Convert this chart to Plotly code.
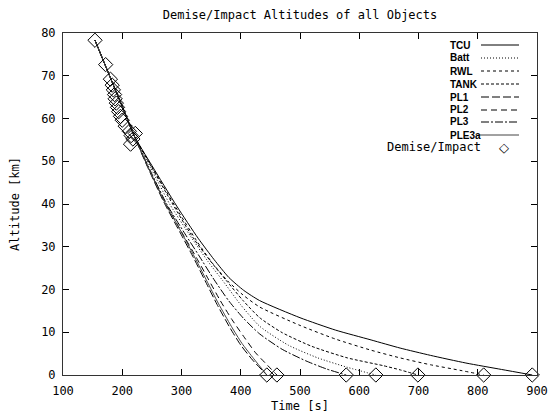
import plotly.graph_objects as go

# ---------------- data ----------------
names = ["TCU", "Batt", "RWL", "TANK", "PL1", "PL2", "PL3", "PLE3a"]

tcu_t   = [154, 175, 200, 220, 250, 292, 328, 355, 380, 405, 432, 500, 560, 620, 669, 720, 780, 840, 892]
tcu_alt = [78.3, 71.2, 62.8, 56.0, 49.0, 39.5, 32.0, 27.0, 22.8, 19.8, 17.4, 13.4, 10.5, 8.2, 6.3, 4.6, 2.8, 1.3, 0.0]

rwl_t   = [154, 175, 200, 220, 250, 290, 325, 352, 378, 404, 432, 500, 560, 620, 669, 720, 770, 810]
rwl_alt = [78.3, 71.2, 62.8, 56.0, 48.7, 39.3, 31.5, 26.2, 22.0, 18.7, 15.9, 11.6, 8.4, 5.8, 4.0, 2.4, 1.1, 0.0]

tank_t   = [154, 175, 200, 220, 250, 285, 320, 348, 375, 404, 432, 470, 520, 580, 640, 669, 699]
tank_alt = [78.3, 71.2, 62.8, 56.0, 48.5, 40.0, 32.0, 26.8, 22.2, 17.4, 13.4, 9.9, 6.7, 4.0, 2.2, 1.2, 0.0]

batt_t   = [154, 175, 200, 220, 248, 280, 315, 345, 370, 400, 432, 480, 530, 580, 628]
batt_alt = [78.3, 71.2, 62.8, 56.0, 48.5, 40.0, 32.5, 26.5, 22.0, 16.4, 11.4, 7.0, 4.0, 1.8, 0.0]

pl3_t   = [154, 175, 200, 220, 245, 275, 306, 330, 355, 380, 405, 432, 470, 510, 545, 578]
pl3_alt = [78.3, 71.2, 62.8, 56.0, 48.5, 40.0, 33.0, 27.8, 22.3, 17.3, 13.2, 9.6, 6.0, 3.3, 1.4, 0.0]

pl1_t   = [154, 175, 200, 220, 240, 270, 297, 320, 340, 360, 382, 400, 420, 444]
pl1_alt = [78.3, 71.2, 62.8, 56.0, 49.5, 40.5, 33.5, 27.5, 22.0, 16.5, 11.0, 7.0, 3.5, 0.0]

pl2_t   = [154, 175, 200, 220, 240, 270, 300, 325, 345, 365, 385, 405, 425, 445, 461]
pl2_alt = [78.3, 71.2, 62.8, 56.0, 49.7, 41.0, 33.5, 27.5, 22.5, 17.5, 13.0, 9.0, 5.2, 2.3, 0.0]

ple3a_t   = [154, 175, 200, 220, 241, 271, 299, 322, 342, 362, 384, 402, 422, 444]
ple3a_alt = [78.3, 71.2, 62.8, 56.0, 49.4, 40.6, 33.6, 27.6, 22.2, 16.8, 11.4, 7.4, 3.8, 0.0]

demise_t   = [154, 172, 180, 183, 185, 187, 188, 190, 192, 194, 197, 200, 205, 212, 215, 218, 214, 222,
              444, 461, 578, 628, 699, 810, 892]
demise_alt = [78.3, 72.6, 69.2, 67.8, 66.7, 65.6, 64.6, 63.6, 62.6, 61.6, 60.5, 59.6, 58.2, 57.0, 56.0, 55.2, 54.0, 56.5,
              0, 0, 0, 0, 0, 0, 0]

x_ticks = [100, 200, 300, 400, 500, 600, 700, 800, 900]
y_ticks = [0, 10, 20, 30, 40, 50, 60, 70, 80]

series = {
    "TCU": (tcu_t, tcu_alt),
    "Batt": (batt_t, batt_alt),
    "RWL": (rwl_t, rwl_alt),
    "TANK": (tank_t, tank_alt),
    "PL1": (pl1_t, pl1_alt),
    "PL2": (pl2_t, pl2_alt),
    "PL3": (pl3_t, pl3_alt),
    "PLE3a": (ple3a_t, ple3a_alt),
}

# ---------------- styles ----------------
dashes = {
    "TCU": "solid",
    "Batt": "1px,2px",
    "RWL": "3px,3px",
    "TANK": "3px,2px",
    "PL1": "8px,3px",
    "PL2": "6px,4px",
    "PL3": "8px,2px,2px,2px",
    "PLE3a": "solid",
}
colors = {n: "#000000" for n in names}
colors["PLE3a"] = "#444444"

MONO = "DejaVu Sans Mono"

W, H = 552, 413
L, R, T, B = 63, 15, 33, 38
PW, PH = W - L - R, H - T - B

fig = go.Figure()
for n in names:
    tx, ay = series[n]
    fig.add_trace(go.Scatter(
        x=tx, y=ay, mode="lines", name=n, showlegend=False,
        line=dict(color=colors[n], width=1, dash=dashes[n], shape="spline", smoothing=0.6),
    ))

fig.add_trace(go.Scatter(
    x=demise_t, y=demise_alt, mode="markers", name="Demise/Impact", showlegend=False,
    marker=dict(symbol="diamond-open", size=11, color="#000000", line=dict(width=1, color="#000000")),
    cliponaxis=False,
))

# ---------------- manual gnuplot-style key ----------------
def px2x(px):
    return (px - L) / PW

def py2y(py):
    return (H - B - py) / PH

rows_py = [45, 58, 71, 84, 97, 110, 122, 135]
shapes = []
annotations = []
for n, py in zip(names, rows_py):
    annotations.append(dict(
        x=px2x(449), y=py2y(py), xref="paper", yref="paper", text=n, showarrow=False,
        xanchor="left", yanchor="middle", borderpad=0,
        font=dict(family="Liberation Sans", size=10, color="#000000", weight="bold"),
    ))
    x0 = 479 if n == "PLE3a" else 481
    shapes.append(dict(
        type="line", xref="paper", yref="paper",
        x0=px2x(x0), x1=px2x(519), y0=py2y(py), y1=py2y(py),
        line=dict(color=colors[n], width=1, dash=dashes[n]),
    ))
annotations.append(dict(
    x=px2x(482), y=py2y(147), xref="paper", yref="paper", text="Demise/Impact", showarrow=False,
    xanchor="right", yanchor="middle", borderpad=0, font=dict(family=MONO, size=12, color="#000000"),
))
annotations.append(dict(
    x=px2x(504), y=py2y(147), xref="paper", yref="paper", text="◇", showarrow=False,
    xanchor="center", yanchor="middle", borderpad=0, font=dict(family="DejaVu Sans", size=13, color="#000000"),
))

fig.update_layout(
    width=W, height=H,
    margin=dict(l=L, r=R, t=T, b=B, pad=0, autoexpand=False),
    paper_bgcolor="#ffffff", plot_bgcolor="#ffffff",
    title=dict(text="Demise/Impact Altitudes of all Objects", x=(L + PW / 2) / W, xanchor="center",
               y=1 - 15 / H, yanchor="middle", font=dict(family=MONO, size=12, color="#000000")),
    font=dict(family=MONO, size=12, color="#000000"),
    shapes=shapes, annotations=annotations,
)
fig.update_xaxes(
    range=[100, 900], tickvals=x_ticks, ticktext=[str(v) for v in x_ticks],
    ticks="inside", ticklen=6, tickcolor="#000000", tickwidth=1,
    showline=True, linecolor="#333333", linewidth=1, mirror="allticks",
    showgrid=False, zeroline=False, automargin=False, ticklabelstandoff=5,
    title=dict(text="Time [s]", font=dict(family=MONO, size=12), standoff=10),
    tickfont=dict(family=MONO, size=12),
)
fig.update_yaxes(
    range=[0, 80], tickvals=y_ticks, ticktext=[str(v) for v in y_ticks],
    ticks="inside", ticklen=6, tickcolor="#000000", tickwidth=1,
    showline=True, linecolor="#333333", linewidth=1, mirror="allticks",
    showgrid=False, zeroline=False, automargin=False, ticklabelstandoff=4,
    title=dict(text="Altitude [km]", font=dict(family=MONO, size=12), standoff=18),
    tickfont=dict(family=MONO, size=12),
)

fig.write_html("out.html")
